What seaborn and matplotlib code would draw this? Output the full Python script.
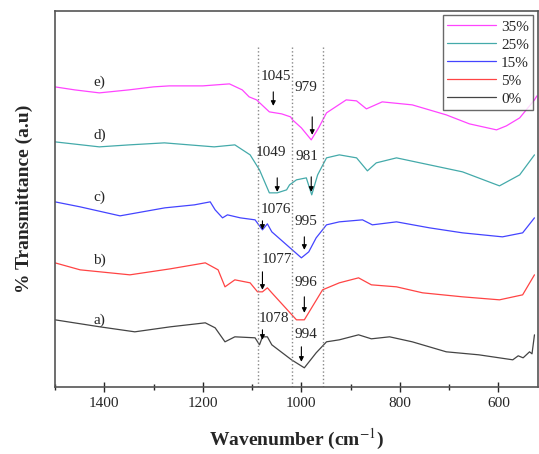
import matplotlib
matplotlib.use("Agg")
import matplotlib.pyplot as plt
import seaborn as sns
import pandas as pd
from matplotlib.ticker import MultipleLocator

# FTIR spectra, offset per sample (arbitrary units)
e_wn = [1500, 1460, 1410, 1350, 1300, 1268, 1200, 1146, 1120, 1106, 1091, 1065, 1040, 1022,
        1018, 1000, 980, 965, 949, 909, 888, 868, 836, 775, 706, 659, 604, 584, 557, 527, 522]
e_tr = [300, 297, 294, 297, 300, 301, 301, 303, 297, 290, 287, 275, 273, 270,
        267, 259, 247, 259, 274, 287, 286, 278, 285, 282, 272, 263, 257, 261, 269, 287, 291]

d_wn = [1500, 1410, 1349, 1278, 1177, 1135, 1104, 1085, 1065, 1049, 1030, 1024, 1010, 990,
        979, 967, 949, 923, 888, 866, 848, 807, 740, 673, 598, 557, 527]
d_tr = [245, 240, 242, 244, 240, 242, 232, 217, 194, 194, 197, 202, 207, 209,
        192, 212, 229, 232, 229, 216, 224, 229, 222, 215, 201, 212, 232]

c_wn = [1500, 1449, 1368, 1277, 1217, 1185, 1175, 1160, 1150, 1124, 1094, 1079, 1069, 1060,
        1030, 1000, 985, 970, 949, 923, 876, 856, 807, 740, 673, 592, 551, 527]
c_tr = [185, 180, 171, 179, 182, 185, 177, 169, 172, 169, 167, 157, 163, 155,
        142, 129, 135, 149, 162, 165, 167, 162, 165, 159, 154, 150, 154, 169]

b_wn = [1500, 1449, 1348, 1266, 1195, 1169, 1155, 1135, 1104, 1089, 1079, 1069, 1060, 1010,
        994, 957, 923, 884, 858, 807, 754, 673, 598, 551, 527]
b_tr = [124, 117, 112, 118, 124, 117, 100, 107, 104, 95, 95, 99, 94, 67,
        67, 97, 104, 109, 102, 100, 94, 90, 87, 92, 112]

a_wn = [1500, 1409, 1338, 1266, 1195, 1175, 1155, 1135, 1094, 1085, 1079, 1069, 1060, 1020,
        994, 970, 949, 923, 884, 858, 821, 775, 706, 640, 571, 560, 550, 537, 532, 527]
a_tr = [67, 60, 55, 60, 64, 59, 45, 50, 49, 42, 50, 50, 42, 27,
        19, 34, 45, 47, 52, 48, 50, 45, 35, 32, 27, 31, 29, 35, 33, 52]

series = ["35%", "25%", "15%", "5%", "0%"]
colors = ["#ff44ff", "#44aaaa", "#4444ff", "#ff4444", "#444444"]
curve_tags = ["e)", "d)", "c)", "b)", "a)"]

# peak labels: (text, label x, label y, arrow x, arrow top, arrow bottom)
peaks = [
    ("1045", 1051, 310, 1057, 295, 281),
    ("979", 990, 299, 978, 270, 252),
    ("1049", 1061, 234, 1049, 209, 195),
    ("981", 988, 230, 980, 210, 195),
    ("1076", 1051, 177, 1079, 166, 157),
    ("995", 990, 165, 994, 150, 137),
    ("1077", 1049, 127, 1079, 115, 97),
    ("996", 990, 104, 994, 90, 74),
    ("1078", 1055, 68, 1079, 57, 47),
    ("994", 990, 52, 1000, 40, 25),
]
guide_lines = [1089, 1020, 957]

sns.set_style("ticks")
plt.rcParams["font.family"] = ["Liberation Serif", "DejaVu Serif"]
plt.rcParams["mathtext.fontset"] = "stix"

fig = plt.figure(figsize=(5.39, 4.54), dpi=100)
ax = fig.add_axes([0.102, 0.148, 0.896, 0.828])

curves = [(e_wn, e_tr), (d_wn, d_tr), (c_wn, c_tr), (b_wn, b_tr), (a_wn, a_tr)]
for (wn, tr), name, col in zip(curves, series, colors):
    df = pd.DataFrame({"wavenumber": wn, "T": tr})
    sns.lineplot(data=df, x="wavenumber", y="T", color=col, lw=0.9, label=name, ax=ax)

# tags next to curves
tag_y = [305, 252, 190, 127, 67]
for tag, ty in zip(curve_tags, tag_y):
    ax.text(1410, ty, tag, fontsize=11, ha="center", va="center")

ax.vlines(guide_lines, 0, 342, colors="#888888", linestyles=":", lw=1)

for txt, lx, ly, axx, y0, y1 in peaks:
    ax.text(lx, ly, txt, fontsize=11, ha="center", va="center")
    ax.annotate("", xy=(axx, y1), xytext=(axx, y0),
                arrowprops=dict(arrowstyle="-|>", color="black", lw=0.8,
                                mutation_scale=7, shrinkA=0, shrinkB=0))

ax.set_xlim(1500, 520)
ax.set_ylim(0, 376)
ax.xaxis.set_major_locator(MultipleLocator(200))
ax.xaxis.set_minor_locator(MultipleLocator(100))
ax.set_yticks([])
ax.tick_params(axis="x", which="major", direction="inout", length=7, width=1, labelsize=11, pad=4)
ax.tick_params(axis="x", which="minor", direction="inout", length=4, width=1)
for s in ax.spines.values():
    s.set_color("#555555")
    s.set_linewidth(1.2)

ax.set_xlabel("Wavenumber (cm$^{-1}$)", fontsize=14, fontweight="bold", labelpad=12)
ax.set_ylabel("% Transmittance (a.u)", fontsize=14, fontweight="bold", labelpad=16)

leg = ax.legend(loc="upper right", fontsize=11, frameon=True, fancybox=False,
                handlelength=3.2, handletextpad=0.3, labelspacing=0.28,
                borderpad=0.3, borderaxespad=0.3)
leg.get_frame().set_edgecolor("#444444")
leg.get_frame().set_linewidth(1)

fig.savefig("out.png", dpi=100)
